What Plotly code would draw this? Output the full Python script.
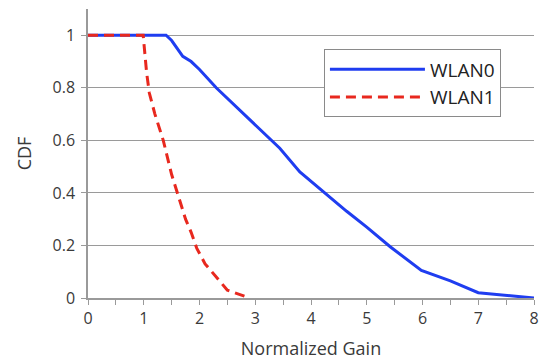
import plotly.graph_objects as go

wlan0_x = [0, 1.4, 1.5, 1.6, 1.7, 1.85, 2.0, 2.3, 2.6, 3.0, 3.44, 3.8, 4.25, 4.64, 5.0, 5.42, 5.98, 6.5, 7.0, 7.5, 8.0]
wlan0_y = [1, 1, 0.98, 0.95, 0.92, 0.9, 0.87, 0.8, 0.74, 0.66, 0.57, 0.48, 0.4, 0.33, 0.27, 0.195, 0.105, 0.065, 0.02, 0.01, 0]
wlan1_x = [0, 0.99, 1.05, 1.1, 1.2, 1.35, 1.5, 1.6, 1.75, 1.85, 1.95, 2.1, 2.3, 2.5, 2.7, 2.9]
wlan1_y = [1, 1, 0.86, 0.78, 0.7, 0.6, 0.47, 0.4, 0.3, 0.25, 0.19, 0.13, 0.08, 0.03, 0.015, 0]

font = "Open Sans, sans-serif"
txt = "#3a3a3a"
grid = "#9a9a9a"

fig = go.Figure()
fig.add_trace(go.Scatter(x=wlan0_x, y=wlan0_y, mode="lines", name="WLAN0",
                         line=dict(color="#1f3df0", width=3)))
fig.add_trace(go.Scatter(x=wlan1_x, y=wlan1_y, mode="lines", name="WLAN1",
                         line=dict(color="#e8281e", width=3, dash="10px,6px")))

fig.update_layout(
    width=551, height=360,
    margin=dict(l=88, r=17, t=9, b=62),
    paper_bgcolor="white", plot_bgcolor="white",
    font=dict(family=font, size=16, color=txt),
    legend=dict(x=0.529, y=0.86, xanchor="left", yanchor="top",
                bordercolor="#8a8a8a", borderwidth=1, bgcolor="white",
                font=dict(size=19, color="#222"), itemwidth=95,
                tracegroupgap=0),
    xaxis=dict(range=[0, 8], dtick=1, tick0=0, showgrid=False, zeroline=False,
               showline=True, linecolor=grid, linewidth=1.5, automargin=False,
               ticks="outside", ticklen=5, tickcolor=grid,
               minor=dict(dtick=0.5, ticks="outside", ticklen=5, tickcolor=grid),
               title=dict(text="Normalized Gain", font=dict(size=18, color=txt), standoff=14),
               tickfont=dict(size=16, color=txt)),
    yaxis=dict(range=[0, 1.1], tickvals=[0, 0.2, 0.4, 0.6, 0.8, 1],
               ticktext=["0", "0.2", "0.4", "0.6", "0.8", "1"],
               showgrid=True, gridcolor=grid, gridwidth=1, zeroline=False,
               showline=True, linecolor=grid, linewidth=1.5, automargin=False,
               ticks="outside", ticklen=5, tickcolor=grid,
               ticklabelstandoff=3,
               title=dict(text="CDF", font=dict(size=18, color=txt), standoff=16),
               tickfont=dict(size=16, color=txt)),
)

fig.write_html("out.html")
